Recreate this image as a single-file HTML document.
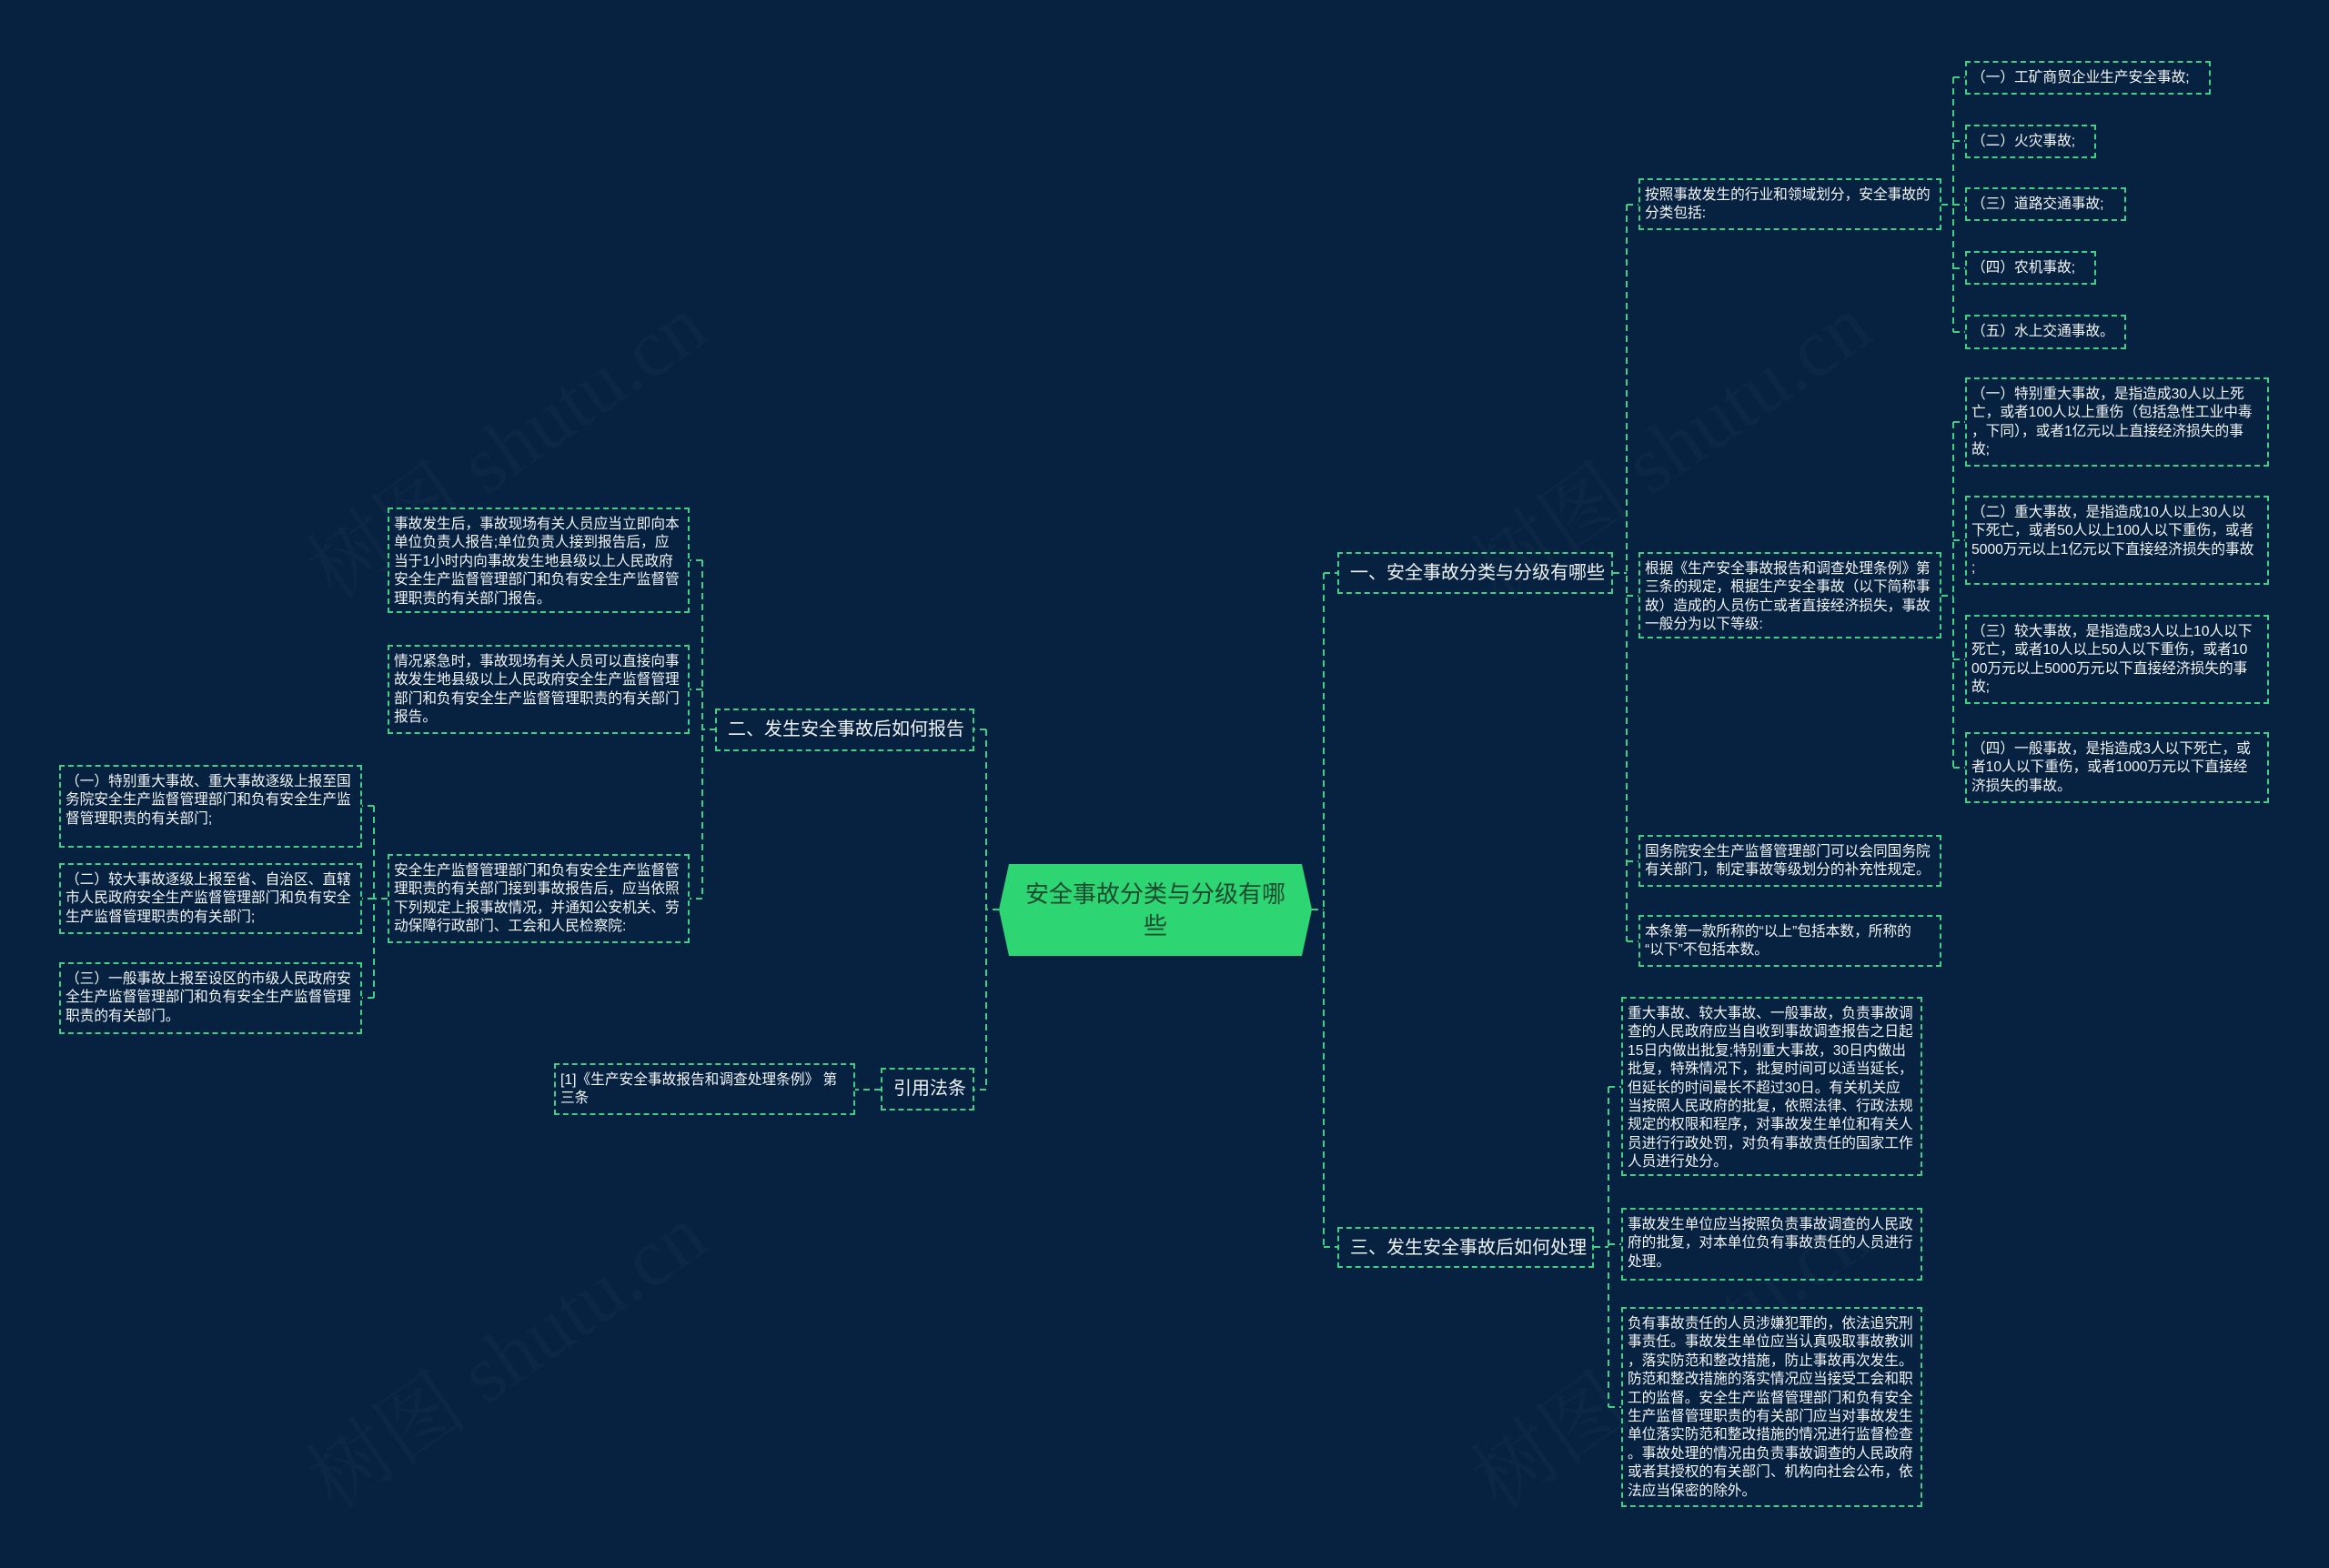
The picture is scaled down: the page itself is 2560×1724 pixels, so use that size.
<!DOCTYPE html>
<html><head><meta charset="utf-8"><style>
html,body{margin:0;padding:0}
body{width:2560px;height:1724px;background:#062240;position:relative;overflow:hidden;font-family:"Liberation Sans","Noto Sans CJK SC",sans-serif}
.b{position:absolute;box-sizing:border-box;border:2px dashed #3fcf85;color:#f2f5f7;font-size:15.7px;line-height:20.4px;padding:7px 5px 5px 5px;white-space:nowrap;overflow:hidden}
.t{position:absolute;box-sizing:border-box;border:2px dashed #3fcf85;color:#eef2f4;font-size:20px;line-height:24px;padding:9px 12px;white-space:nowrap}
svg{position:absolute;left:0;top:0}
.wm{position:absolute;color:rgba(255,255,255,0.025);font-size:90px;font-family:"Liberation Serif","Noto Serif CJK SC",serif;transform:rotate(-35deg);white-space:nowrap}
</style></head><body>
<div class="wm" style="left:300px;top:420px">树图 shutu.cn</div>
<div class="wm" style="left:300px;top:1420px">树图 shutu.cn</div>
<div class="wm" style="left:1580px;top:420px">树图 shutu.cn</div>
<div class="wm" style="left:1580px;top:1420px">树图 shutu.cn</div>
<svg width="2560" height="1724"><g fill="none" stroke="#3fcf85" stroke-width="2" stroke-dasharray="7 5">
<path d="M1442 1000H1455M1455 630V1371M1455 630H1470M1455 1371H1470"/>
<path d="M1773 630H1788M1788 225V1035M1788 225H1801M1788 655H1801M1788 947H1801M1788 1035H1801"/>
<path d="M2134 225H2147M2147 85V365M2147 85H2160M2147 155H2160M2147 225H2160M2147 295H2160M2147 365H2160"/>
<path d="M2134 655H2147M2147 464V844M2147 464H2160M2147 594H2160M2147 725H2160M2147 844H2160"/>
<path d="M1752 1371H1768M1768 1195V1547M1768 1195H1782M1768 1368H1782M1768 1547H1782"/>
<path d="M1098 1000H1084M1084 802V1198M1084 802H1071M1084 1198H1071"/>
<path d="M787 802H772M772 616V988M772 616H758M772 758H758M772 988H758"/>
<path d="M426 988H411M411 886V1097M411 886H398M411 988H398M411 1097H398"/>
<path d="M968 1198H940"/>
</g>
<polygon points="1098,1000 1109,950 1431,950 1442,1000 1431,1051 1109,1051" fill="#2ed573"/>
<text x="1270" y="992" text-anchor="middle" font-size="26" fill="#1b4a2e" font-family="Liberation Sans, Noto Sans CJK SC, sans-serif">安全事故分类与分级有哪</text>
<text x="1270" y="1027" text-anchor="middle" font-size="26" fill="#1b4a2e" font-family="Liberation Sans, Noto Sans CJK SC, sans-serif">些</text>
</svg>

<div class="t" style="left:1470px;top:607px;width:303px;height:46px">一、安全事故分类与分级有哪些</div>
<div class="t" style="left:1470px;top:1349px;width:282px;height:45px">三、发生安全事故后如何处理</div>
<div class="t" style="left:786px;top:779px;width:285px;height:47px">二、发生安全事故后如何报告</div>
<div class="t" style="left:968px;top:1174px;width:103px;height:47px">引用法条</div>

<div class="b" style="left:609px;top:1169px;width:331px;height:57px">[1]《生产安全事故报告和调查处理条例》 第<br>三条</div>

<div class="b" style="left:1801px;top:196px;width:333px;height:57px">按照事故发生的行业和领域划分，安全事故的<br>分类包括:</div>
<div class="b" style="left:1801px;top:607px;width:333px;height:95px">根据《生产安全事故报告和调查处理条例》第<br>三条的规定，根据生产安全事故（以下简称事<br>故）造成的人员伤亡或者直接经济损失，事故<br>一般分为以下等级:</div>
<div class="b" style="left:1801px;top:918px;width:333px;height:57px">国务院安全生产监督管理部门可以会同国务院<br>有关部门，制定事故等级划分的补充性规定。</div>
<div class="b" style="left:1801px;top:1006px;width:333px;height:57px">本条第一款所称的“以上”包括本数，所称的<br>“以下”不包括本数。</div>

<div class="b" style="left:2160px;top:67px;width:270px;height:37px">（一）工矿商贸企业生产安全事故;</div>
<div class="b" style="left:2160px;top:137px;width:144px;height:37px">（二）火灾事故;</div>
<div class="b" style="left:2160px;top:206px;width:177px;height:37px">（三）道路交通事故;</div>
<div class="b" style="left:2160px;top:276px;width:144px;height:37px">（四）农机事故;</div>
<div class="b" style="left:2160px;top:346px;width:177px;height:38px">（五）水上交通事故。</div>

<div class="b" style="left:2160px;top:415px;width:334px;height:98px">（一）特别重大事故，是指造成30人以上死<br>亡，或者100人以上重伤（包括急性工业中毒<br>，下同），或者1亿元以上直接经济损失的事<br>故;</div>
<div class="b" style="left:2160px;top:545px;width:334px;height:98px">（二）重大事故，是指造成10人以上30人以<br>下死亡，或者50人以上100人以下重伤，或者<br>5000万元以上1亿元以下直接经济损失的事故<br>;</div>
<div class="b" style="left:2160px;top:676px;width:334px;height:98px">（三）较大事故，是指造成3人以上10人以下<br>死亡，或者10人以上50人以下重伤，或者10<br>00万元以上5000万元以下直接经济损失的事<br>故;</div>
<div class="b" style="left:2160px;top:805px;width:334px;height:78px">（四）一般事故，是指造成3人以下死亡，或<br>者10人以下重伤，或者1000万元以下直接经<br>济损失的事故。</div>

<div class="b" style="left:1782px;top:1096px;width:331px;height:197px">重大事故、较大事故、一般事故，负责事故调<br>查的人民政府应当自收到事故调查报告之日起<br>15日内做出批复;特别重大事故，30日内做出<br>批复，特殊情况下，批复时间可以适当延长，<br>但延长的时间最长不超过30日。有关机关应<br>当按照人民政府的批复，依照法律、行政法规<br>规定的权限和程序，对事故发生单位和有关人<br>员进行行政处罚，对负有事故责任的国家工作<br>人员进行处分。</div>
<div class="b" style="left:1782px;top:1328px;width:331px;height:80px">事故发生单位应当按照负责事故调查的人民政<br>府的批复，对本单位负有事故责任的人员进行<br>处理。</div>
<div class="b" style="left:1782px;top:1437px;width:331px;height:220px">负有事故责任的人员涉嫌犯罪的，依法追究刑<br>事责任。事故发生单位应当认真吸取事故教训<br>，落实防范和整改措施，防止事故再次发生。<br>防范和整改措施的落实情况应当接受工会和职<br>工的监督。安全生产监督管理部门和负有安全<br>生产监督管理职责的有关部门应当对事故发生<br>单位落实防范和整改措施的情况进行监督检查<br>。事故处理的情况由负责事故调查的人民政府<br>或者其授权的有关部门、机构向社会公布，依<br>法应当保密的除外。</div>

<div class="b" style="left:426px;top:558px;width:332px;height:116px">事故发生后，事故现场有关人员应当立即向本<br>单位负责人报告;单位负责人接到报告后，应<br>当于1小时内向事故发生地县级以上人民政府<br>安全生产监督管理部门和负有安全生产监督管<br>理职责的有关部门报告。</div>
<div class="b" style="left:426px;top:709px;width:332px;height:98px">情况紧急时，事故现场有关人员可以直接向事<br>故发生地县级以上人民政府安全生产监督管理<br>部门和负有安全生产监督管理职责的有关部门<br>报告。</div>
<div class="b" style="left:426px;top:939px;width:332px;height:98px">安全生产监督管理部门和负有安全生产监督管<br>理职责的有关部门接到事故报告后，应当依照<br>下列规定上报事故情况，并通知公安机关、劳<br>动保障行政部门、工会和人民检察院:</div>

<div class="b" style="left:65px;top:841px;width:333px;height:91px">（一）特别重大事故、重大事故逐级上报至国<br>务院安全生产监督管理部门和负有安全生产监<br>督管理职责的有关部门;</div>
<div class="b" style="left:65px;top:949px;width:333px;height:78px">（二）较大事故逐级上报至省、自治区、直辖<br>市人民政府安全生产监督管理部门和负有安全<br>生产监督管理职责的有关部门;</div>
<div class="b" style="left:65px;top:1058px;width:333px;height:79px">（三）一般事故上报至设区的市级人民政府安<br>全生产监督管理部门和负有安全生产监督管理<br>职责的有关部门。</div>
</body></html>
